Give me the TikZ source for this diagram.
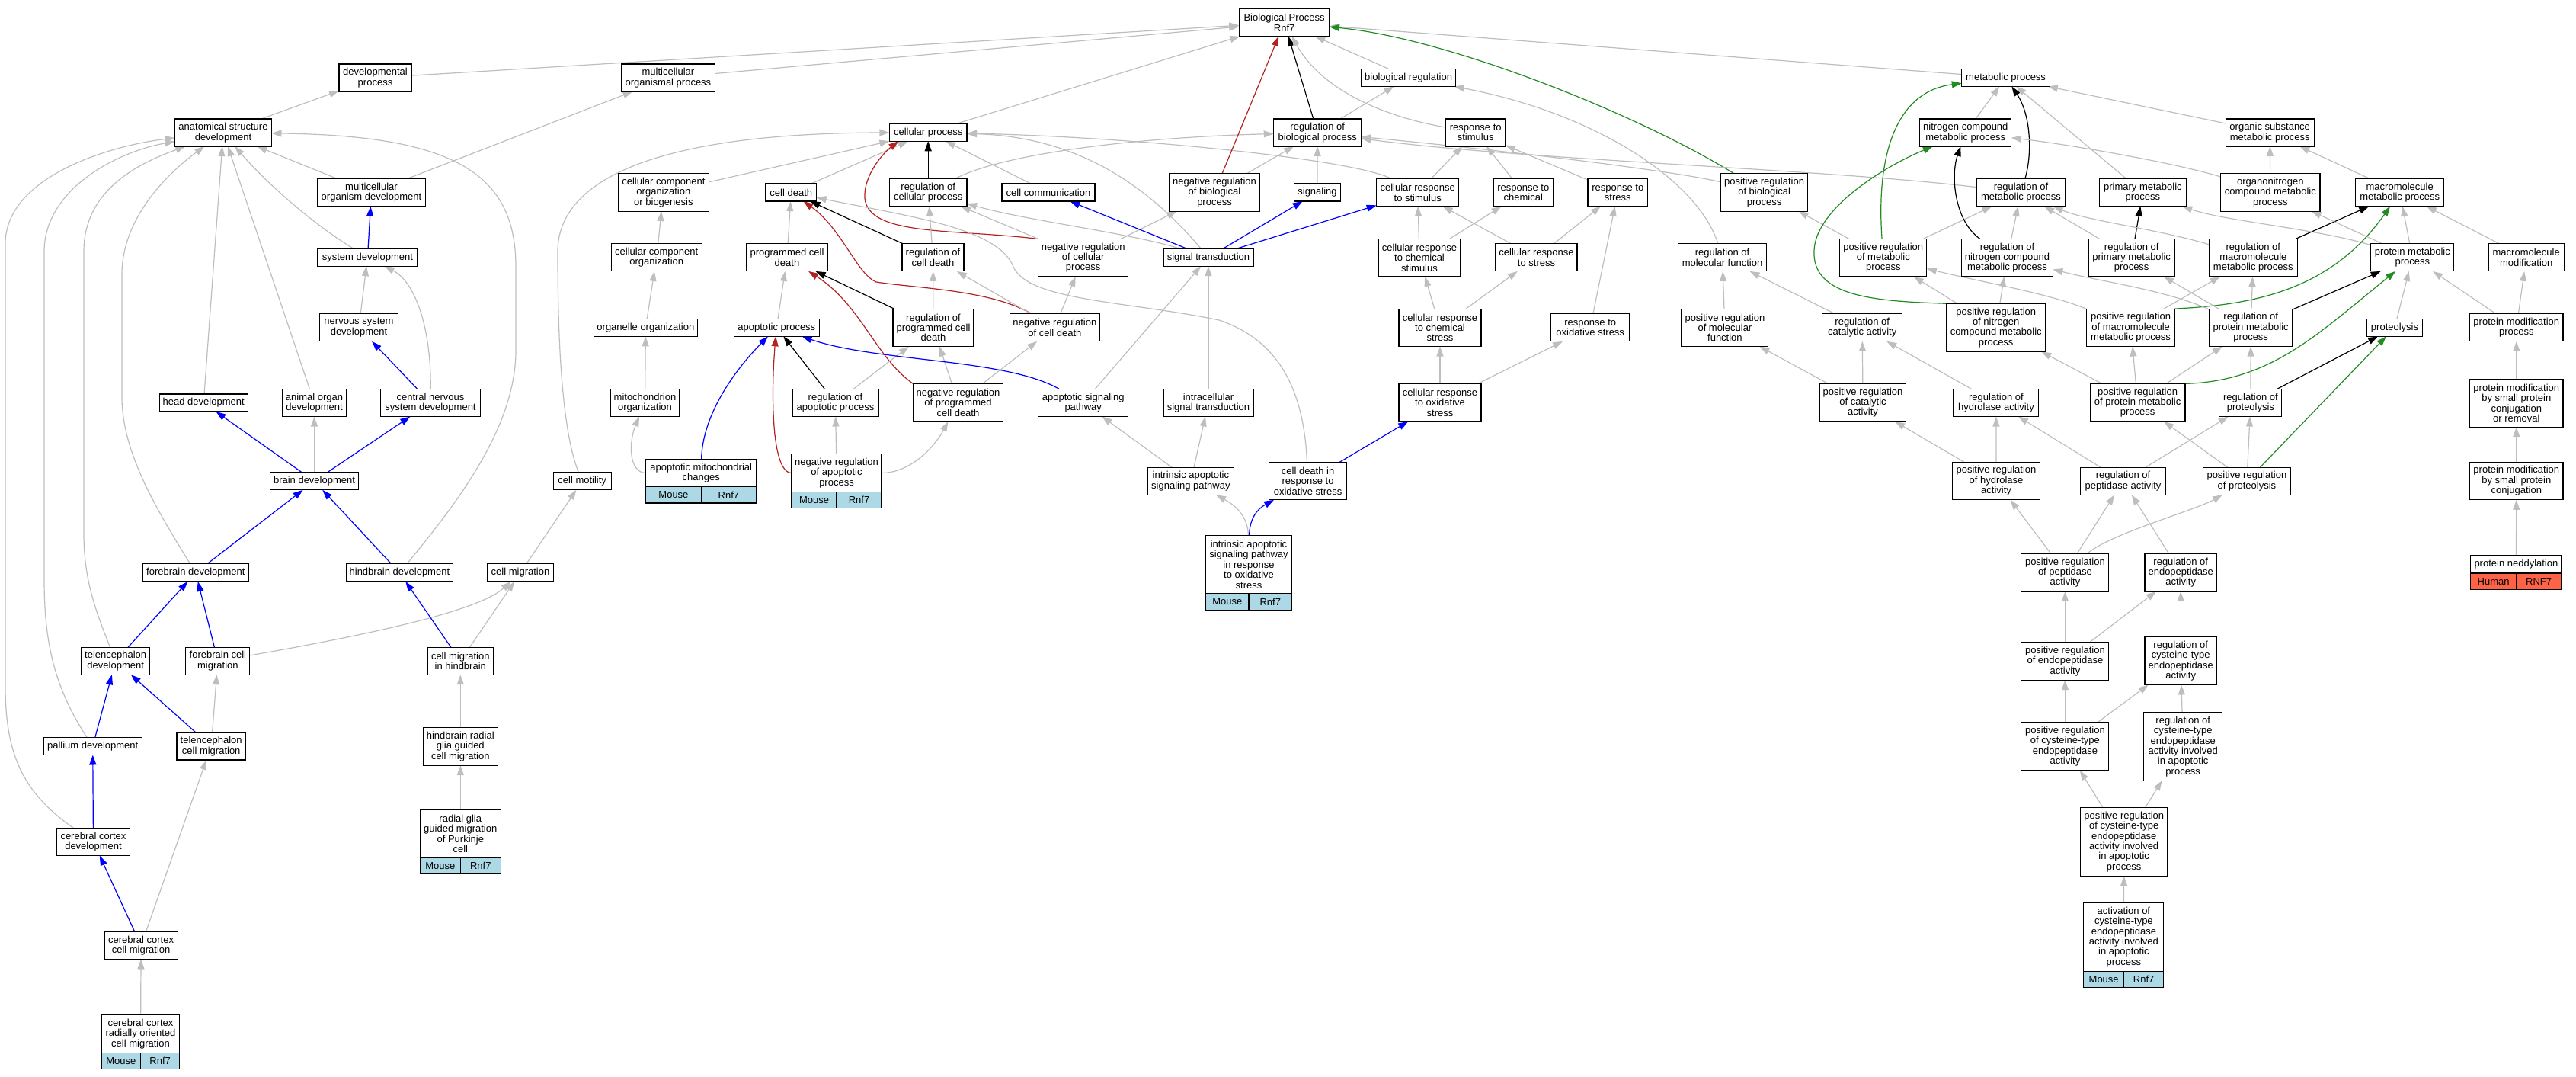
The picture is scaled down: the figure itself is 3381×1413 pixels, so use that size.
\documentclass[tikz,border=0pt]{standalone}
\usepackage{fontspec}
\newfontfamily\gofont{Liberation Sans}
\usetikzlibrary{arrows.meta,backgrounds}
\definecolor{edgegray}{HTML}{BEBEBE}
\definecolor{firebrick}{HTML}{B22222}
\definecolor{forestgreen}{HTML}{228B22}
\definecolor{lightblue}{HTML}{ADD8E6}
\definecolor{tomato}{HTML}{FF6347}
\begin{document}
\begin{tikzpicture}[x=1pt, y=-1pt,
        term/.style={draw=black, line width=1.1pt, fill=white, align=center, inner xsep=3pt, inner ysep=5pt,
            outer sep=0pt, minimum height=23pt, font={\gofont\fontsize{13}{13.4}\selectfont}},
        h2/.style={minimum height=36pt}, h3/.style={minimum height=49.5pt}, h4/.style={minimum height=63pt},
        h5/.style={minimum height=76pt}, h6/.style={minimum height=89.5pt},
        spcell/.style={term, fill=lightblue, inner ysep=2pt, minimum height=21.4pt},
        hcell/.style={spcell, fill=tomato},
        isa/.style={draw=edgegray, line width=1.2pt, -{Triangle[length=13pt,width=9pt]}},
        partof/.style={isa, draw=blue},
        reg/.style={isa, draw=black},
        negreg/.style={isa, draw=firebrick},
        posreg/.style={isa, draw=forestgreen}]
                \useasboundingbox (0,0) rectangle (3381,1413);

                % 1-3段目
                \node[term, h2, minimum width=118.7] (bp) at (1685.6,29.7) {Biological Process\\Rnf7};
                \node[term, h2, minimum width=95] (devproc) at (492.5,102) {developmental\\process};
                \node[term, h2, minimum width=123] (mcop) at (876.9,102) {multicellular\\organismal process};
                \node[term, minimum width=124] (bioreg) at (1848.6,101.9) {biological regulation};
                \node[term, minimum width=115.7] (metproc) at (2632.6,101.9) {metabolic process};
                \node[term, h2, minimum width=127] (asd) at (293,174) {anatomical structure\\development};
                \node[term, minimum width=101.6] (cellproc) at (1218.2,173.8) {cellular process};
                \node[term, h2, minimum width=114.8] (regbio) at (1729.2,174) {regulation of\\biological process};
                \node[term, h2, minimum width=78.6] (respstim) at (1936.7,174) {response to\\stimulus};
                \node[term, h2, minimum width=120] (nitro) at (2579.8,174) {nitrogen compound\\metabolic process};
                \node[term, h2, minimum width=115.7] (orgsub) at (2979.2,174) {organic substance\\metabolic process};

                % 4段目
                \node[term, h2, minimum width=141.5] (mcod) at (487.5,252.7) {multicellular\\organism development};
                \node[term, h3, minimum width=119] (ccob) at (870.9,252.3) {cellular component\\organization\\or biogenesis};
                \node[term, minimum width=66.6] (celldeath) at (1038.3,252.5) {cell death};
                \node[term, h2, minimum width=101.6] (regcell) at (1218.2,252.7) {regulation of\\cellular process};
                \node[term, minimum width=122] (cellcomm) at (1376,252.5) {cell communication};
                \node[term, h3, minimum width=118] (negbio) at (1594,252.3) {negative regulation\\of biological\\process};
                \node[term, minimum width=61.4] (signaling) at (1729,252.5) {signaling};
                \node[term, h2, minimum width=108] (crstim) at (1860.7,252.7) {cellular response\\to stimulus};
                \node[term, h2, minimum width=78.6] (respchem) at (1999.3,252.7) {response to\\chemical};
                \node[term, h2, minimum width=78.6] (respstress) at (2123.3,252.7) {response to\\stress};
                \node[term, h3, minimum width=114] (posbio) at (2315.6,252.3) {positive regulation\\of biological\\process};
                \node[term, h2, minimum width=116.3] (regmet) at (2652.5,252.7) {regulation of\\metabolic process};
                \node[term, h2, minimum width=113.5] (primet) at (2812.4,252.7) {primary metabolic\\process};
                \node[term, h3, minimum width=130.4] (orgnitro) at (2979.8,252.3) {organonitrogen\\compound metabolic\\process};
                \node[term, h2, minimum width=116.3] (macromet) at (3149.7,252.7) {macromolecule\\metabolic process};

                % 5段目
                \node[term, minimum width=131] (sysdev) at (482.4,337.7) {system development};
                \node[term, h2, minimum width=119] (cco) at (861.7,337.9) {cellular component\\organization};
                \node[term, h2, minimum width=107] (pcd) at (1033,337.9) {programmed cell\\death};
                \node[term, h2, minimum width=81] (regcd) at (1224.5,337.9) {regulation of\\cell death};
                \node[term, h3, minimum width=118] (negcell) at (1421.7,338.2) {negative regulation\\of cellular\\process};
                \node[term, minimum width=118] (sigtrans) at (1586,337.7) {signal transduction};
                \node[term, h3, minimum width=108] (crchem) at (1863,338.2) {cellular response\\to chemical\\stimulus};
                \node[term, h2, minimum width=107] (crstress) at (2016.5,337.9) {cellular response\\to stress};
                \node[term, h2, minimum width=115.4] (regmf) at (2260.5,337.9) {regulation of\\molecular function};
                \node[term, h3, minimum width=114] (posmet) at (2471.8,338.2) {positive regulation\\of metabolic\\process};
                \node[term, h3, minimum width=119.7] (regnitro) at (2634.5,338.2) {regulation of\\nitrogen compound\\metabolic process};
                \node[term, h3, minimum width=113.5] (regprim) at (2797.7,338.2) {regulation of\\primary metabolic\\process};
                \node[term, h3, minimum width=115.8] (regmacro) at (2957.3,338.2) {regulation of\\macromolecule\\metabolic process};
                \node[term, h2, minimum width=109] (protmet) at (3166.3,337.9) {protein metabolic\\process};
                \node[term, h2, minimum width=99] (macromod) at (3315.7,337.9) {macromolecule\\modification};

                % 6段目
                \node[term, h2, minimum width=103] (nsd) at (471,429.8) {nervous system\\development};
                \node[term, minimum width=136] (orgorg) at (847.4,429.8) {organelle organization};
                \node[term, minimum width=112.5] (apop) at (1019.3,429.8) {apoptotic process};
                \node[term, h3, minimum width=106] (regpcd) at (1225,429.8) {regulation of\\programmed cell\\death};
                \node[term, h2, minimum width=118] (negcd) at (1384.4,429.8) {negative regulation\\of cell death};
                \node[term, h3, minimum width=108] (crchemstress) at (1890,429.8) {cellular response\\to chemical\\stress};
                \node[term, h2, minimum width=102.7] (respox) at (2087.2,429.8) {response to\\oxidative stress};
                \node[term, h3, minimum width=114] (posmf) at (2263.9,429.8) {positive regulation\\of molecular\\function};
                \node[term, h2, minimum width=105] (regcat) at (2444.2,429.8) {regulation of\\catalytic activity};
                \node[term, h4, minimum width=130.3] (posnitro) at (2619.7,429.8) {positive regulation\\of nitrogen\\compound metabolic\\process};
                \node[term, h3, minimum width=115.7] (posmacro) at (2796.6,429.8) {positive regulation\\of macromolecule\\metabolic process};
                \node[term, h3, minimum width=109.6] (regprot) at (2954.2,429.8) {regulation of\\protein metabolic\\process};
                \node[term, minimum width=72.5] (proteolysis) at (3143,429.8) {proteolysis};
                \node[term, h2, minimum width=122.4] (protmod) at (3302.8,429.8) {protein modification\\process};

                % 7段目
                \node[term, minimum width=116] (headdev) at (267.2,528.5) {head development};
                \node[term, h2, minimum width=83.5] (aod) at (412.5,528.5) {animal organ\\development};
                \node[term, h2, minimum width=131] (cnsd) at (565,528.5) {central nervous\\system development};
                \node[term, h2, minimum width=90.7] (mitoorg) at (846.5,528.5) {mitochondrion\\organization};
                \node[term, h2, minimum width=113] (regapop) at (1096.5,528.5) {regulation of\\apoptotic process};
                \node[term, h3, minimum width=118] (negpcd) at (1257.5,528.2) {negative regulation\\of programmed\\cell death};
                \node[term, h2, minimum width=118] (apopsig) at (1421.7,528.5) {apoptotic signaling\\pathway};
                \node[term, h2, minimum width=118] (intrasig) at (1586,528.5) {intracellular\\signal transduction};
                \node[term, h3, minimum width=108] (crox) at (1890,528.2) {cellular response\\to oxidative\\stress};
                \node[term, h3, minimum width=113.7] (poscat) at (2445,528.2) {positive regulation\\of catalytic\\activity};
                \node[term, h2, minimum width=111.8] (reghyd) at (2619.9,528.5) {regulation of\\hydrolase activity};
                \node[term, h3, minimum width=124.7] (posprot) at (2805.6,528.2) {positive regulation\\of protein metabolic\\process};
                \node[term, h2, minimum width=82] (regproteo) at (2953.9,528.5) {regulation of\\proteolysis};
                \node[term, h4, minimum width=122.4] (smallcr) at (3302.8,528.7) {protein modification\\by small protein\\conjugation\\or removal};

                % 8段目
                \node[term, minimum width=116] (braindev) at (412.5,631.3) {brain development};
                \node[term, minimum width=76] (motility) at (764.2,631.3) {cell motility};
                \node[term, h2, minimum width=145] (apopmito) at (920.2,620.6) {apoptotic mitochondrial\\changes};
                \node[spcell, minimum width=72.5, anchor=north west] (apopmito-sp) at (apopmito.south west) {Mouse};
                \node[spcell, minimum width=72.5, anchor=north east] (apopmito-gn) at (apopmito.south east) {Rnf7};
                \node[term, h3, minimum width=118] (negapop) at (1098,620.6) {negative regulation\\of apoptotic\\process};
                \node[spcell, minimum width=59, anchor=north west] (negapop-sp) at (negapop.south west) {Mouse};
                \node[spcell, minimum width=59, anchor=north east] (negapop-gn) at (negapop.south east) {Rnf7};
                \node[term, h2, minimum width=113.7] (intrapop) at (1562.9,631.3) {intrinsic apoptotic\\signaling pathway};
                \node[term, h3, minimum width=102] (cdox) at (1716.6,631) {cell death in\\response to\\oxidative stress};
                \node[term, h3, minimum width=115] (poshyd) at (2620,631) {positive regulation\\of hydrolase\\activity};
                \node[term, h2, minimum width=112.4] (regpep) at (2786.5,631.3) {regulation of\\peptidase activity};
                \node[term, h2, minimum width=114.6] (posproteo) at (2948.9,631.3) {positive regulation\\of proteolysis};
                \node[term, h3, minimum width=122.4] (smallc) at (3302.8,631) {protein modification\\by small protein\\conjugation};

                % 9段目
                \node[term, minimum width=139] (forebrain) at (256.9,751.4) {forebrain development};
                \node[term, minimum width=140] (hindbrain) at (524.4,751.4) {hindbrain development};
                \node[term, minimum width=87] (cellmig) at (683,751.4) {cell migration};
                \node[term, h5, minimum width=113] (introx) at (1639,740.7) {intrinsic apoptotic\\signaling pathway\\in response\\to oxidative\\stress};
                \node[spcell, minimum width=56.5, anchor=north west] (introx-sp) at (introx.south west) {Mouse};
                \node[spcell, minimum width=56.5, anchor=north east] (introx-gn) at (introx.south east) {Rnf7};
                \node[term, h3, minimum width=115] (pospep) at (2710.4,751.2) {positive regulation\\of peptidase\\activity};
                \node[term, h3, minimum width=94.5] (regendo) at (2862.2,751.2) {regulation of\\endopeptidase\\activity};
                \node[term, minimum width=119] (nedd) at (3302.4,740.5) {protein neddylation};
                \node[hcell, minimum width=59.5, anchor=north west] (nedd-sp) at (nedd.south west) {Human};
                \node[hcell, minimum width=59.5, anchor=north east] (nedd-gn) at (nedd.south east) {RNF7};

                % 10-14段目
                \node[term, h2, minimum width=90] (teldev) at (151.7,867.2) {telencephalon\\development};
                \node[term, h2, minimum width=84] (fbmig) at (285.9,867.2) {forebrain cell\\migration};
                \node[term, h2, minimum width=86.7] (hbmig) at (604.3,867.2) {cell migration\\in hindbrain};
                \node[term, h3, minimum width=115] (posendo) at (2710.4,867.3) {positive regulation\\of endopeptidase\\activity};
                \node[term, h4, minimum width=94.5] (regcys) at (2862.2,867) {regulation of\\cysteine-type\\endopeptidase\\activity};
                \node[term, minimum width=129.5] (pallium) at (121.7,979) {pallium development};
                \node[term, h2, minimum width=90.5] (telmig) at (277.2,979) {telencephalon\\cell migration};
                \node[term, h3, minimum width=97.5] (hbrg) at (604.3,979.4) {hindbrain radial\\glia guided\\cell migration};
                \node[term, h4, minimum width=115] (poscys) at (2710.4,979.2) {positive regulation\\of cysteine-type\\endopeptidase\\activity};
                \node[term, h6, minimum width=103] (regcysapop) at (2865.2,979.4) {regulation of\\cysteine-type\\endopeptidase\\activity involved\\in apoptotic\\process};
                \node[term, h2, minimum width=96.5] (ccdev) at (122.5,1104.5) {cerebral cortex\\development};
                \node[term, h4, minimum width=106] (purkinje) at (604.3,1093.8) {radial glia\\guided migration\\of Purkinje\\cell};
                \node[spcell, minimum width=53, anchor=north west] (purkinje-sp) at (purkinje.south west) {Mouse};
                \node[spcell, minimum width=53, anchor=north east] (purkinje-gn) at (purkinje.south east) {Rnf7};
                \node[term, h6, minimum width=114.6] (poscysapop) at (2787.7,1104.5) {positive regulation\\of cysteine-type\\endopeptidase\\activity involved\\in apoptotic\\process};
                \node[term, h2, minimum width=96] (ccmig) at (185.1,1240.5) {cerebral cortex\\cell migration};
                \node[term, h6, minimum width=105] (actcys) at (2787.4,1229.5) {activation of\\cysteine-type\\endopeptidase\\activity involved\\in apoptotic\\process};
                \node[spcell, minimum width=52.5, anchor=north west] (actcys-sp) at (actcys.south west) {Mouse};
                \node[spcell, minimum width=52.5, anchor=north east] (actcys-gn) at (actcys.south east) {Rnf7};
                \node[term, h3, minimum width=102.5] (ccrad) at (184.5,1356.5) {cerebral cortex\\radially oriented\\cell migration};
                \node[spcell, minimum width=51.25, anchor=north west] (ccrad-sp) at (ccrad.south west) {Mouse};
                \node[spcell, minimum width=51.25, anchor=north east] (ccrad-gn) at (ccrad.south east) {Rnf7};

                \begin{scope}[on background layer]
                    % 左側 (発生)
                    \draw[isa] (asd) -- (devproc);
                    \draw[isa] (mcod) -- (mcop);
                    \draw[isa] (mcod) -- (asd);
                    \draw[partof] (sysdev) -- (mcod);
                    \draw[isa] (sysdev) .. controls (405,290) and (345,235) .. (asd);
                    \draw[isa] (nsd) -- (sysdev);
                    \draw[partof] (cnsd) -- (nsd);
                    \draw[isa] (cnsd) .. controls (566,430) and (545,370) .. (sysdev);
                    \draw[isa] (headdev) -- (asd);
                    \draw[isa] (aod) -- (asd);
                    \draw[partof] (braindev) -- (headdev);
                    \draw[isa] (braindev) -- (aod);
                    \draw[partof] (braindev) -- (cnsd);
                    \draw[partof] (forebrain) -- (braindev);
                    \draw[partof] (hindbrain) -- (braindev);
                    \draw[isa] (hindbrain) .. controls (600,660) and (677,560) .. (677,460) -- (677,350)
                            .. controls (677,230) and (600,178) .. (asd);
                    \draw[isa] (forebrain) .. controls (200,660) and (160,590) .. (160,520) -- (160,360)
                            .. controls (160,280) and (230,220) .. (asd);
                    \draw[isa] (teldev) .. controls (125,800) and (110,760) .. (110,700) -- (110,330)
                            .. controls (110,250) and (180,215) .. (asd);
                    \draw[isa] (pallium) .. controls (70,900) and (58,840) .. (58,760) -- (58,330)
                            .. controls (58,250) and (150,200) .. (asd);
                    \draw[isa] (ccdev) .. controls (30,1040) and (7,990) .. (7,900) -- (7,320)
                            .. controls (7,230) and (150,190) .. (asd);
                    \draw[partof] (teldev) -- (forebrain);
                    \draw[partof] (fbmig) -- (forebrain);
                    \draw[isa] (fbmig) .. controls (500,830) and (630,800) .. (cellmig);
                    \draw[partof] (hbmig) -- (hindbrain);
                    \draw[isa] (hbmig) -- (cellmig);
                    \draw[isa] (cellmig) -- (motility);
                    \draw[isa] (motility) .. controls (735,560) and (732,420) .. (732,330)
                            .. controls (732,240) and (850,175) .. (cellproc);
                    \draw[partof] (pallium) -- (teldev);
                    \draw[partof] (telmig) -- (teldev);
                    \draw[isa] (telmig) -- (fbmig);
                    \draw[isa] (hbrg) -- (hbmig);
                    \draw[partof] (ccdev) -- (pallium);
                    \draw[partof] (ccmig) -- (ccdev);
                    \draw[isa] (ccmig) -- (telmig);
                    \draw[isa] (purkinje) -- (hbrg);
                    \draw[isa] (ccrad) -- (ccmig);

                    % 中央 (細胞過程)
                    \draw[isa] (devproc) -- (bp);
                    \draw[isa] (mcop) -- (bp);
                    \draw[isa] (cellproc) -- (bp);
                    \draw[isa] (ccob) -- (cellproc);
                    \draw[isa] (celldeath) -- (cellproc);
                    \draw[reg] (regcell) -- (cellproc);
                    \draw[isa] (cellcomm) -- (cellproc);
                    \draw[negreg] (negcell.north west) .. controls (1250,300) and (1140,310) .. (1135,260)
                            .. controls (1133,230) and (1160,200) .. ([xshift=12]cellproc.south west);
                    \draw[isa] (sigtrans) .. controls (1520,260) and (1430,180) .. (cellproc);
                    \draw[isa] (crstim) .. controls (1780,210) and (1500,180) .. (cellproc);
                    \draw[isa] (regcell) .. controls (1320,200) and (1500,180) .. (regbio);
                    \draw[isa] (cco) -- (ccob);
                    \draw[isa] (orgorg) -- (cco);
                    \draw[isa] (mitoorg) -- (orgorg);
                    \draw[isa] (apopmito.west) .. controls (825,620) and (825,580) .. (mitoorg);
                    \draw[isa] (pcd) -- (celldeath);
                    \draw[isa] (apop) -- (pcd);
                    \draw[reg] (regcd) -- (celldeath);
                    \draw[isa] (regcd) -- (regcell);
                    \draw[negreg] (negcd) .. controls (1300,380) and (1200,378) .. (1150,370)
                            .. controls (1125,360) and (1105,300) .. (celldeath);
                    \draw[isa] (negcd) -- (regcd);
                    \draw[isa] (negcd) -- (negcell);
                    \draw[isa] (negcell) -- (regcell);
                    \draw[isa] (negcell) -- (negbio);
                    \draw[reg] (regpcd) -- (pcd);
                    \draw[isa] (regpcd) -- (regcd);
                    \draw[negreg] (negpcd.north west) .. controls (1150,470) and (1130,400) .. (pcd);
                    \draw[isa] (negpcd) -- (regpcd);
                    \draw[isa] (negpcd) -- (negcd);
                    \draw[reg] (regapop) -- (apop);
                    \draw[isa] (regapop) -- (regpcd);
                    \draw[negreg] (negapop.west) .. controls (1010,620) and (1013,500) .. (apop);
                    \draw[isa] (negapop) -- (regapop);
                    \draw[isa] (negapop.east) .. controls (1200,620) and (1230,580) .. (negpcd);
                    \draw[partof] (apopmito) .. controls (922,540) and (970,480) .. (apop);
                    \draw[partof] (apopsig) .. controls (1320,470) and (1150,475) .. (apop);
                    \draw[isa] (apopsig) -- (sigtrans);
                    \draw[isa] (intrasig) -- (sigtrans);
                    \draw[isa] (intrapop) -- (apopsig);
                    \draw[isa] (intrapop) -- (intrasig);
                    \draw[isa] (introx) .. controls (1638,680) and (1625,665) .. (intrapop);
                    \draw[partof] (introx) .. controls (1640,680) and (1650,668) .. (cdox);
                    \draw[partof] (cdox) -- (crox);
                    \draw[isa] (cdox) .. controls (1712,530) and (1690,450) .. (1600,420)
                            .. controls (1480,395) and (1350,395) .. (1330,350)
                            .. controls (1310,300) and (1200,285) .. (celldeath);
                    \draw[partof] (sigtrans) -- (cellcomm);
                    \draw[partof] (sigtrans) -- (signaling);
                    \draw[partof] (sigtrans) -- (crstim);
                    \draw[isa] (sigtrans) .. controls (1480,305) and (1350,290) .. (regcell);
                    \draw[negreg] (negbio) -- (bp);
                    \draw[isa] (negbio) -- (regbio);
                    \draw[reg] (regbio) -- (bp);
                    \draw[isa] (regbio) -- (bioreg);
                    \draw[isa] (signaling) -- (regbio);
                    \draw[isa] (bioreg) -- (bp);
                    \draw[isa] (respstim) .. controls (1800,150) and (1730,110) .. (bp);
                    \draw[isa] (metproc) -- (bp);
                    \draw[posreg] (posbio) .. controls (2150,150) and (1900,50) .. (bp);
                    \draw[isa] (regmf) .. controls (2230,240) and (2100,150) .. (bioreg);
                    \draw[isa] (regmet) .. controls (2400,222) and (2000,210) .. (regbio);
                    \draw[isa] (posbio) .. controls (2200,225) and (2000,200) .. (regbio);

                    % 刺激への応答
                    \draw[isa] (crstim) -- (respstim);
                    \draw[isa] (respchem) -- (respstim);
                    \draw[isa] (respstress) -- (respstim);
                    \draw[isa] (crchem) -- (crstim);
                    \draw[isa] (crstress) -- (crstim);
                    \draw[isa] (crchem) -- (respchem);
                    \draw[isa] (crstress) -- (respstress);
                    \draw[isa] (respox) -- (respstress);
                    \draw[isa] (crchemstress) -- (crchem);
                    \draw[isa] (crchemstress) -- (crstress);
                    \draw[isa] (crox) -- (crchemstress);
                    \draw[isa] (crox) -- (respox);
                    \draw[isa] (posmf) -- (regmf);
                    \draw[isa] (regcat) -- (regmf);
                    \draw[isa] (poscat) -- (posmf);
                    \draw[isa] (poscat) -- (regcat);
                    \draw[isa] (reghyd) -- (regcat);
                    \draw[isa] (poshyd) -- (poscat);

                    % 右側 (代謝)
                    \draw[isa] (posmet) -- (posbio);
                    \draw[posreg] (posmet) .. controls (2462,200) and (2490,120) .. (metproc);
                    \draw[isa] (posmet) -- (regmet);
                    \draw[posreg] (posnitro.north west) .. controls (2460,395) and (2370,390) .. (2382,320)
                            .. controls (2392,270) and (2470,220) .. (nitro);
                    \draw[reg] (regnitro) .. controls (2565,290) and (2560,230) .. (nitro);
                    \draw[isa] (regnitro) -- (regmet);
                    \draw[reg] (regmet) .. controls (2668,200) and (2665,150) .. (metproc);
                    \draw[isa] (nitro) -- (metproc);
                    \draw[isa] (primet) -- (metproc);
                    \draw[isa] (orgsub) -- (metproc);
                    \draw[isa] (orgnitro) .. controls (2860,215) and (2720,190) .. (nitro);
                    \draw[isa] (orgnitro) -- (orgsub);
                    \draw[isa] (macromet) -- (orgsub);
                    \draw[isa] (posnitro) -- (posmet);
                    \draw[isa] (posmacro) .. controls (2690,385) and (2600,370) .. (posmet);
                    \draw[isa] (posnitro) -- (regnitro);
                    \draw[isa] (regprim) -- (regmet);
                    \draw[reg] (regprim) -- (primet);
                    \draw[isa] (regmacro) .. controls (2830,300) and (2740,290) .. (regmet);
                    \draw[reg] (regmacro) -- (macromet);
                    \draw[isa] (protmet) .. controls (3040,300) and (2920,290) .. (primet);
                    \draw[isa] (protmet) -- (orgnitro);
                    \draw[isa] (protmet) -- (macromet);
                    \draw[isa] (macromod) -- (macromet);
                    \draw[posreg] (posmacro.north east) .. controls (2960,400) and (3060,380) .. (macromet);
                    \draw[isa] (posmacro) -- (regmacro);
                    \draw[isa] (regprot) .. controls (2840,380) and (2760,370) .. (regnitro);
                    \draw[isa] (regprot) -- (regprim);
                    \draw[isa] (regprot) -- (regmacro);
                    \draw[reg] (regprot) -- (protmet);
                    \draw[posreg] (posprot.north east) .. controls (2980,500) and (3040,440) .. (protmet);
                    \draw[isa] (posprot) -- (posmacro);
                    \draw[isa] (posprot) -- (regprot);
                    \draw[isa] (posprot) -- (posnitro);
                    \draw[isa] (regproteo) -- (regprot);
                    \draw[reg] (regproteo) -- (proteolysis);
                    \draw[isa] (proteolysis) -- (protmet);
                    \draw[isa] (protmod) -- (protmet);
                    \draw[isa] (protmod) -- (macromod);
                    \draw[isa] (smallcr) -- (protmod);
                    \draw[isa] (smallc) -- (smallcr);
                    \draw[isa] (nedd) -- (smallc);
                    \draw[isa] (posproteo) -- (regproteo);
                    \draw[isa] (posproteo) -- (posprot);
                    \draw[posreg] (posproteo) -- (proteolysis);
                    \draw[isa] (regpep) -- (regproteo);
                    \draw[isa] (regpep) -- (reghyd);
                    \draw[isa] (poshyd) -- (reghyd);
                    \draw[isa] (pospep) -- (poshyd);
                    \draw[isa] (pospep) -- (regpep);
                    \draw[isa] (pospep) .. controls (2770,700) and (2880,670) .. (posproteo);
                    \draw[isa] (regendo) -- (regpep);
                    \draw[isa] (posendo) -- (pospep);
                    \draw[isa] (posendo) -- (regendo);
                    \draw[isa] (regcys) -- (regendo);
                    \draw[isa] (poscys) -- (posendo);
                    \draw[isa] (poscys) -- (regcys);
                    \draw[isa] (regcysapop) -- (regcys);
                    \draw[isa] (poscysapop) -- (poscys);
                    \draw[isa] (poscysapop) -- (regcysapop);
                    \draw[isa] (actcys) -- (poscysapop);
                \end{scope}
            \end{tikzpicture}
\end{document}
